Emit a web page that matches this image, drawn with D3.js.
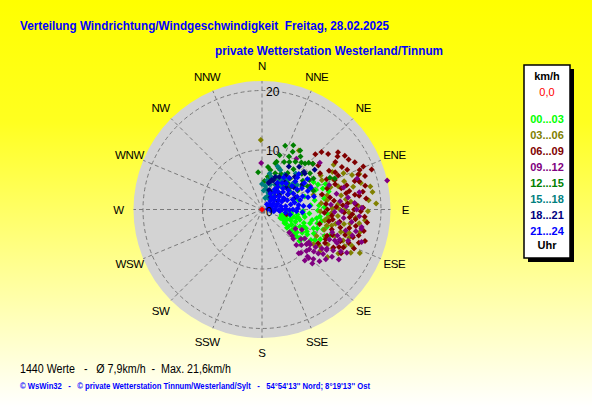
<!DOCTYPE html>
<html><head><meta charset="utf-8">
<script src="https://cdn.jsdelivr.net/npm/d3@7"></script>
<style>body{margin:0;background:#fff}svg{display:block}text{white-space:pre}</style>
</head><body>
<script>
// ---------- data ----------
const titleLine1 = "Verteilung Windrichtung/Windgeschwindigkeit  Freitag, 28.02.2025";
const titleLine2 = "private Wetterstation Westerland/Tinnum";
const statsLine = "1440 Werte   -   Ø 7,9km/h  -  Max. 21,6km/h";
const footerLine = "© WsWin32   -   © private Wetterstation Tinnum/Westerland/Sylt   -   54°54'13'' Nord; 8°19'13'' Ost";
const directions = ["N","NNE","NE","ENE","E","ESE","SE","SSE","S","SSW","SW","WSW","W","WNW","NW","NNW"];
const ringTicks = [0, 10, 20];
const maxSpeed = 21.6;
const legendTitle = "km/h";
const calmLabel = "0,0";
const legendLabels = ["00...03","03...06","06...09","09...12","12...15","15...18","18...21","21...24"];
const legendFooter = "Uhr";
const calm = [[0, 0]];
// [direction deg, speed km/h] per time window
const h0003 = [[104,3.7],[106,3.4],[110,3.9],[116,4.0],[112,4.5],[120,4.6],[108,5.0],[117,5.6],[122,5.3],[126,6.8],[124,6.1],[114,7.0],[118,6.3],[106,8.4],[99,9.3],[100,7.3],[102,6.2],[110,6.0],[128,7.4],[119,8.7],[110,9.2],[111,12.2],[105,11.3],[97,9.8],[95,8.0],[92,6.9],[66,10.3],[66,8.8],[73,7.5],[75,6.3],[75,11.6],[70,9.6],[80,9.0],[85,8.2],[88,10.5],[94,11.0],[101,10.2],[108,10.8],[115,9.6],[122,9.7],[125,8.6],[113,8.0],[103,5.5],[97,5.0],[93,4.2],[100,4.6],[130,8.2],[120,10.3],
  [105,6.6],[108,7.4],[112,7.6],[116,8.4],[120,7.8],[123,7.0],[127,8.0],[129,6.0],[126,5.2],[121,4.4],[115,3.4],[111,5.2],[107,4.2],[104,6.0],[98,6.0],[96,7.0],[102,8.6],[109,9.8],[117,11.0],[113,11.4],[104,9.6],[99,10.8],[91,9.4],[86,9.6],[80,10.6],[71,10.8],[68,11.5],[62,9.8]];
const h0306 = [[78,18.6],[114,18.0],[112,16.3],[105,14.4],[127,9.5],[67,13.0],[100,10.7],[90,13.1],[71,14.6],[72,12.1],[85,18.0],[85,15.0],[93,11.7],[105,15.2],[88,16.2],[90,14.0],[32,11.7],[359,11.7],[62,13.4],[64,11.2],[80,13.5],[95,12.8],[100,14.0],[110,13.0],[118,12.5],[120,14.8],[98,16.5],[82,11.0],[76,15.8],[108,11.0],[92,9.8],[84,10.0],[116,10.2],[103,12.0],[74,9.0],[69,16.2],[125,12.0],[96,17.4],
  [70,17.4],[75,17.2],[81,18.8],[87,19.2],[91,17.8],[95,15.8],[99,15.0],[103,16.9],[108,15.4],[111,14.6],[114,15.2],[116,16.6],[119,13.6],[122,11.4],[124,10.4],[126,13.6],[113,11.6],[106,13.8],[101,12.6],[97,11.2],[89,11.8],[86,12.8],[83,14.2],[78,11.2],[73,13.4],[66,15.0],[60,11.4],[58,14.2],[92,14.6],[104,11.2]];
const h0609 = [[44,12.9],[46,13.9],[53,16.0],[57,16.6],[57,14.7],[68,17.7],[70,17.2],[70,19.6],[73,16.3],[107,18.1],[107,16.0],[115,15.1],[107,14.6],[94,17.3],[121,11.0],[101,4.2],[62,15.2],[60,13.0],[66,14.0],[75,13.8],[78,15.0],[82,16.5],[86,14.4],[90,15.5],[95,14.8],[100,16.0],[103,13.5],[98,12.0],[88,12.5],[80,11.6],[72,11.5],[65,12.0],[110,12.6],[112,14.2],[118,13.6],[93,10.5],[85,10.8],[104,10.0],[76,10.4],[52,12.0],[97,17.8],[89,17.0],[115,11.8],[68,13.2],
  [50,14.5],[55,15.5],[60,16.8],[63,17.5],[65,15.8],[67,18.5],[72,18.2],[74,17.0],[77,17.8],[80,17.2],[84,17.6],[87,15.8],[91,16.6],[92,13.8],[96,15.8],[99,13.2],[102,15.0],[105,16.8],[109,17.2],[111,15.6],[113,16.8],[116,14.4],[119,15.2],[106,12.2],[100,11.4],[95,11.8],[90,11.0],[83,12.2],[79,14.4],[71,13.0],[63,13.8],[58,11.5],[48,11.5],[112,11.8],[118,12.0],[87,13.6],[93,15.2],[81,15.8],[74,14.8],[102,17.5]];
const h0912 = [[131,6.7],[136,8.3],[132,8.9],[136,11.3],[129,11.2],[128,12.0],[126,12.7],[123,12.0],[117,7.5],[124,8.7],[125,11.0],[136,11.0],[121,12.7],[100,17.0],[77,21.6],[359,7.8],[51,12.5],[90,15.9],[101,17.0],[113,13.3],[114,13.8],[122,12.8],[89,16.8],[128,9.5],[108,12.4],[104,14.5],[96,13.8],[92,12.2],[84,13.2],[78,12.8],[70,12.0],[86,15.6],[110,15.4],[118,15.0],[133,10.2],[140,9.6],[120,6.5],[64,9.0],[34,10.3],[124,14.2],
  [133,7.2],[138,9.8],[134,12.0],[130,10.4],[127,8.2],[125,9.6],[114,12.4],[111,14.0],[109,13.4],[106,15.8],[103,16.2],[98,15.2],[94,16.4],[88,14.2],[82,14.6],[80,16.6],[75,14.2],[72,16.8],[132,13.0],[128,13.6],[126,10.0],[120,13.8],[117,16.0],[130,6.0],[137,12.4],[140,11.2],[123,15.4],[108,17.6],[100,13.0],[91,13.4],[86,11.6]];
const h1215 = [[20,11.4],[28,11.0],[33,11.8],[27,10.0],[18,9.6],[17,8.4],[354,6.3],[35,9.8],[43,10.6],[53,10.1],[65,12.6],[67,13.3],[59,10.1],[40,10.3],[45,11.1],[16,8.1],[22,7.5],[25,8.8],[30,9.2],[38,8.6],[48,9.0],[55,8.4],[60,7.8],[50,7.2],[42,7.0],[35,7.5],[28,6.8],[20,6.5],[12,6.8],[10,5.6],[15,5.2],[24,5.8],[32,6.0],[45,6.2],[58,9.4],[63,8.6],[70,9.2],[26,12.0],[36,11.0],[48,11.5],[8,7.2],[5,4.8],[30,4.8],[40,5.2],[52,6.0],[62,6.8]];
const h1518 = [[0,4.3],[12,6.2],[24,6.0],[16,5.7],[28,4.7],[31,5.8],[46,5.5],[43,8.3],[8,4.0],[5,3.2],[12,3.5],[20,3.0],[18,4.4],[22,2.4],[30,3.4],[35,4.2],[38,5.0],[40,6.4],[50,6.6],[55,7.2],[33,7.0],[25,7.3],[20,7.7],[48,4.0],[28,2.2],[15,2.0],[10,5.0],[34,6.4],[42,3.0],[58,5.6]];
const h1821 = [[32,8.5],[41,9.5],[14,4.6],[22,5.9],[48,9.5],[25,3.3],[18,5.2],[45,3.1],[50,9.4],[53,11.1],[21,5.2],[20,3.5],[15,4.8],[35,7.0],[40,6.0],[55,6.5],[60,5.0],[30,5.0],[38,4.0],[50,3.8],[65,4.2],[45,7.8],[28,6.2],[58,8.0],[70,6.0],[62,3.0],[35,2.5],[48,5.5]];
const h2124 = [[85,1.0],[88,1.6],[90,2.2],[92,2.8],[90,3.4],[89,4.0],[91,4.6],[90,5.2],[93,5.8],[95,3.0],[97,4.0],[100,4.8],[98,2.0],[80,1.5],[78,2.4],[80,3.2],[82,4.0],[80,4.9],[78,5.6],[83,6.2],[85,7.0],[76,6.6],[72,1.8],[70,2.8],[68,3.6],[70,4.5],[72,5.4],[70,6.3],[72,7.2],[75,8.0],[68,8.3],[62,2.2],[60,3.2],[62,4.1],[60,5.0],[63,5.9],[60,6.8],[62,7.6],[58,8.4],[55,1.5],[52,2.6],[53,3.6],[50,4.6],[54,5.5],[52,6.4],[50,7.3],[48,8.0],[45,2.0],[44,3.0],[42,4.0],[45,5.0],[43,6.0],[41,7.0],[38,2.5],[36,3.6],[35,4.6],[37,5.6],[34,6.5],[32,4.0],[30,5.2],[28,3.0],[66,9.0],[56,9.2],[46,8.6],[76,9.0],[86,8.0],[94,6.8],[88,6.0],[65,1.2],[42,1.2],[95,1.5]];
const groups = [h0003, h0306, h0609, h0912, h1215, h1518, h1821, h2124];

// ---------- styles ----------
const groupColors = ["#00FF00","#808000","#800000","#800080","#008000","#008080","#000080","#0000FF"];
const W = 592, H = 407, cx = 262, cy = 209.5;
const font = "Arial, 'Liberation Sans', sans-serif";

const svg = d3.select("body").append("svg").attr("width", W).attr("height", H);
const defs = svg.append("defs");
const grad = defs.append("linearGradient").attr("id","bg").attr("x1",0).attr("y1",0).attr("x2",0).attr("y2",1);
grad.append("stop").attr("offset","0%").attr("stop-color","#FFFF00");
grad.append("stop").attr("offset","30%").attr("stop-color","#FFFF20");
grad.append("stop").attr("offset","100%").attr("stop-color","#FFFFFF");
svg.append("rect").attr("width",W).attr("height",H).attr("fill","url(#bg)");

// titles
svg.append("text").attr("x",20).attr("y",29.5).attr("font-family",font).attr("font-weight","bold")
  .attr("font-size",13).attr("fill","#0000FF").attr("textLength",369).attr("lengthAdjust","spacingAndGlyphs").text(titleLine1);
svg.append("text").attr("x",215).attr("y",54.5).attr("font-family",font).attr("font-weight","bold")
  .attr("font-size",13).attr("fill","#0000FF").attr("textLength",228).attr("lengthAdjust","spacingAndGlyphs").text(titleLine2);

// scales
const r = d3.scaleLinear().domain([0, 20]).range([0, 119]);
const ang = d3.scaleLinear().domain([0, 360]).range([0, 2*Math.PI]);
const px = (d, s) => cx + r(s) * Math.sin(ang(d));
const py = (d, s) => cy - r(s) * Math.cos(ang(d));

const g = svg.append("g");
g.append("circle").attr("cx",cx).attr("cy",cy).attr("r",r(maxSpeed)).attr("fill","#D3D3D3");

const dirScale = d3.scalePoint().domain(directions).range([0, 337.5]);
// spokes
g.selectAll("line.spoke").data(directions).join("line").attr("class","spoke")
  .attr("x1",cx).attr("y1",cy)
  .attr("x2",d=>px(dirScale(d), maxSpeed)).attr("y2",d=>py(dirScale(d), maxSpeed))
  .attr("stroke","#7a7a7a").attr("stroke-width",1).attr("stroke-dasharray","4,3");
// rings
g.selectAll("circle.ring").data(ringTicks.filter(v=>v>0)).join("circle").attr("class","ring")
  .attr("cx",cx).attr("cy",cy).attr("r",d=>r(d)).attr("fill","none")
  .attr("stroke","#7a7a7a").attr("stroke-width",1).attr("stroke-dasharray","4,3");

// points
const diamond = "M0,-3L3,0L0,3L-3,0Z";
groups.forEach((arr, i) => {
  g.append("g").selectAll("path").data(arr).join("path")
    .attr("d", diamond)
    .attr("transform", d => `translate(${px(d[0], d[1]).toFixed(1)},${py(d[0], d[1]).toFixed(1)})`)
    .attr("fill", groupColors[i]);
});
g.append("rect").attr("x",cx-1).attr("y",cy).attr("width",4).attr("height",4).attr("fill","#707070");
g.selectAll("path.calm").data(calm).join("path").attr("class","calm").attr("d",diamond)
  .attr("transform", d => `translate(${px(d[0],d[1])},${py(d[0],d[1])})`).attr("fill","#FF0000");

// ring labels
g.selectAll("text.tick").data(ringTicks).join("text").attr("class","tick")
  .attr("x", cx + 4).attr("y", d => cy - r(d) + (d === 0 ? 6 : 5))
  .attr("font-family",font).attr("font-size",12).attr("fill","#000").text(d=>d);

// direction labels
g.selectAll("text.dir").data(directions).join("text").attr("class","dir")
  .attr("x", d => px(dirScale(d), 24.1)).attr("y", d => py(dirScale(d), 24.1) + 4)
  .attr("text-anchor","middle").attr("font-family",font).attr("font-size",11.5)
  .attr("letter-spacing",-0.4).attr("fill","#000").text(d=>d);

// legend
const lg = svg.append("g");
lg.append("rect").attr("x",528).attr("y",69).attr("width",46).attr("height",193).attr("fill","#000");
lg.append("rect").attr("x",524).attr("y",65).attr("width",46).attr("height",193).attr("fill","#fff").attr("stroke","#000").attr("stroke-width",1.5);
lg.append("text").attr("x",547).attr("y",80).attr("text-anchor","middle").attr("font-family",font)
  .attr("font-weight","bold").attr("font-size",11).text(legendTitle);
lg.append("text").attr("x",547).attr("y",96).attr("text-anchor","middle").attr("font-family",font)
  .attr("font-size",11).attr("fill","#FF0000").text(calmLabel);
lg.selectAll("text.leg").data(legendLabels).join("text").attr("class","leg")
  .attr("x",547).attr("y",(d,i)=>123 + i*16).attr("text-anchor","middle").attr("font-family",font)
  .attr("font-weight","bold").attr("font-size",11).attr("fill",(d,i)=>groupColors[i]).text(d=>d);
lg.append("text").attr("x",547).attr("y",249).attr("text-anchor","middle").attr("font-family",font)
  .attr("font-weight","bold").attr("font-size",11).text(legendFooter);

// bottom lines
svg.append("text").attr("x",20).attr("y",373).attr("font-family",font).attr("font-size",12)
  .attr("textLength",211).attr("lengthAdjust","spacingAndGlyphs").text(statsLine);
svg.append("text").attr("x",20).attr("y",388.5).attr("font-family",font).attr("font-size",8.5).attr("font-weight","bold")
  .attr("fill","#0000FF").attr("textLength",350).attr("lengthAdjust","spacingAndGlyphs").text(footerLine);
</script>
</body></html>
